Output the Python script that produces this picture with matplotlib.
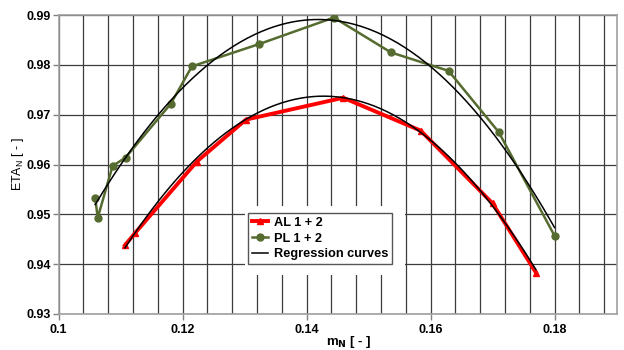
import numpy as np
import matplotlib.pyplot as plt
from matplotlib.patches import Rectangle

plt.rcParams['font.family'] = ['Liberation Sans', 'DejaVu Sans']

# AL 1 + 2 (red)
al_x = [0.1107, 0.1123, 0.1223, 0.1302, 0.1459, 0.1584, 0.1700, 0.1770]
al_y = [0.9438, 0.9462, 0.9606, 0.9690, 0.9734, 0.9668, 0.9522, 0.9383]

# PL 1 + 2 (green)
pl_x = [0.1059, 0.1063, 0.1087, 0.1108, 0.1181, 0.1215, 0.1324, 0.1444,
        0.1536, 0.1629, 0.1710, 0.1800]
pl_y = [0.9533, 0.9493, 0.9597, 0.9614, 0.9722, 0.9797, 0.9842, 0.9895,
        0.9825, 0.9788, 0.9665, 0.9457]

xticks = [0.1, 0.12, 0.14, 0.16, 0.18]
xtick_labels = ['0.1', '0.12', '0.14', '0.16', '0.18']
yticks = [0.93, 0.94, 0.95, 0.96, 0.97, 0.98, 0.99]

red = '#ff0000'
green = '#556b2f'

fig = plt.figure(figsize=(6.24, 3.5), dpi=100)
ax = fig.add_axes([0.094, 0.103, 0.894, 0.854])

ax.set_xlim(0.1, 0.19)
ax.set_ylim(0.93, 0.99)
ax.set_xticks(xticks)
ax.set_xticklabels(xtick_labels)
ax.set_xticks(np.arange(0.1, 0.1901, 0.004), minor=True)
ax.set_yticks(yticks)
ax.set_yticklabels(['%.2f' % v for v in yticks])
ax.grid(which='both', color='#3c3c3c', lw=0.9, zorder=0)
ax.tick_params(which='major', length=4, width=1, color='#808080',
               labelsize=9)
ax.tick_params(axis='y', pad=1.5)
ax.tick_params(which='minor', length=0)
for lab in ax.get_xticklabels() + ax.get_yticklabels():
    lab.set_fontweight('bold')
for s in ax.spines.values():
    s.set_color('#a0a0a0')
    s.set_linewidth(1.2)

# regression curves (2nd order fit of each series)
def reg(xs, ys):
    c = np.polyfit(xs, ys, 2)
    xx = np.linspace(min(xs), max(xs), 200)
    return xx, np.polyval(c, xx)

ax.plot(al_x, al_y, color=red, lw=2.8, marker='^', ms=5, zorder=3,
        label='AL 1 + 2')
ax.plot(pl_x, pl_y, color=green, lw=1.8, marker='o', ms=5, zorder=3,
        label='PL 1 + 2')
rx, ry = reg(al_x, al_y)
ax.plot(rx, ry, color='black', lw=1.1, zorder=4, label='Regression curves')
gx, gy = reg(pl_x, pl_y)
ax.plot(gx, gy, color='black', lw=1.1, zorder=4)

ax.add_patch(Rectangle((0.334, 0.130), 0.287, 0.231, transform=ax.transAxes,
                       facecolor='white', edgecolor='none', zorder=5))
leg = ax.legend(loc='upper left', bbox_to_anchor=(0.339, 0.338),
                borderaxespad=0, prop={'weight': 'bold', 'size': 9.2},
                handlelength=1.3, handletextpad=0.45, borderpad=0.3,
                labelspacing=0.3, fancybox=False, framealpha=1,
                edgecolor='#555555')
leg.set_zorder(6)
leg.get_frame().set_linewidth(1.0)

ax.set_ylabel('ETA$_\\mathregular{N}$ [ - ]', fontsize=9)
ax.yaxis.set_label_coords(-0.059, 0.5)
ax.set_xlabel('m$_\\mathregular{\\bf{N}}$ [ - ]', fontsize=9.5,
              fontweight='bold')
ax.xaxis.set_label_coords(0.52, -0.066)

fig.savefig('out.png', dpi=100)
